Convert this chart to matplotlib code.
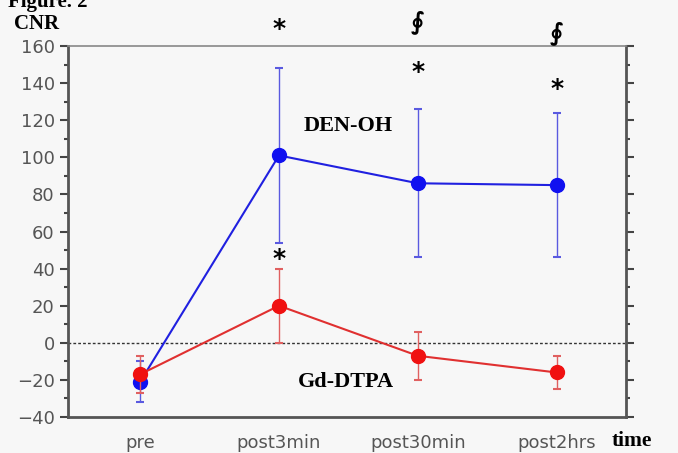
import numpy as np
import matplotlib.pyplot as plt
from matplotlib.ticker import MultipleLocator

# data
times = ["pre", "post3min", "post30min", "post2hrs"]
den_oh = [-21, 101, 86, 85]
den_oh_err = [11, 47, 40, 39]
gd_dtpa = [-17, 20, -7, -16]
gd_dtpa_err = [10, 20, 13, 9]

bg = "#f7f7f7"
x = np.arange(len(times))

fig = plt.figure(figsize=(6.78, 4.53), dpi=100, facecolor=bg)
ax = fig.add_axes([68 / 678, 1 - 417 / 453, (626 - 68) / 678, (417 - 46) / 453])
ax.set_facecolor(bg)

ax.axhline(0, color="#333333", lw=1.0, ls=(0, (2, 1.5)), zorder=1)

ax.errorbar(x, den_oh, yerr=den_oh_err, color="#2020e0", ecolor="#5a5ae0",
            lw=1.5, elinewidth=1.0, capsize=3, capthick=1.5,
            marker="o", ms=10, mfc="#1010f0", mec="#1010f0", zorder=3)
ax.errorbar(x, gd_dtpa, yerr=gd_dtpa_err, color="#e03030", ecolor="#e06060",
            lw=1.5, elinewidth=1.0, capsize=3, capthick=1.5,
            marker="o", ms=10, mfc="#f01010", mec="#f01010", zorder=4)

ax.set_xlim(-0.52, 3.5)
ax.set_ylim(-40, 160)
ax.yaxis.set_major_locator(MultipleLocator(20))
ax.yaxis.set_minor_locator(MultipleLocator(10))
ax.set_xticks(x)
ax.set_xticklabels(times)
ax.tick_params(axis="x", length=0, pad=12, labelsize=13, labelcolor="#555555")
ax.tick_params(axis="y", which="both", direction="out", right=True,
               labelsize=13, labelcolor="#555555", color="#444444")
ax.tick_params(axis="y", which="major", length=6, width=1.5)
ax.tick_params(axis="y", which="minor", length=3, width=1.5)

for side in ["left", "right", "bottom"]:
    ax.spines[side].set_linewidth(2)
    ax.spines[side].set_color("#555555")
ax.spines["top"].set_linewidth(1.2)
ax.spines["top"].set_color("#888888")

serif = "Liberation Serif"
ax.text(1.5, 117, "DEN-OH", family=serif, weight="bold", fontsize=16, ha="center", va="center")
ax.text(1.48, -21, "Gd-DTPA", family=serif, weight="bold", fontsize=16, ha="center", va="center")
fig.text(14 / 678, 1 - 24 / 453, "CNR", family=serif, weight="bold", fontsize=15, va="center")
fig.text(612 / 678, 1 - 441 / 453, "time", family=serif, weight="bold", fontsize=15.5, va="center")
fig.text(8 / 678, 1 - 2 / 453, "Figure. 2", family=serif, weight="bold", fontsize=15, va="center")

# significance marks
star = dict(annotation_clip=False, ha="center", va="center", fontsize=18, weight="bold")
ax.annotate("*", (1, 169), **star)
ax.annotate("*", (2, 146), **star)
ax.annotate("*", (3, 137), **star)
ax.annotate("*", (1, 45), **star)
sym = dict(annotation_clip=False, ha="center", va="center", fontsize=17, weight="bold")
ax.annotate("\u222e", (2, 173), **sym)
ax.annotate("\u222e", (3, 167), **sym)

fig.savefig("out.png", dpi=100, facecolor=bg)
